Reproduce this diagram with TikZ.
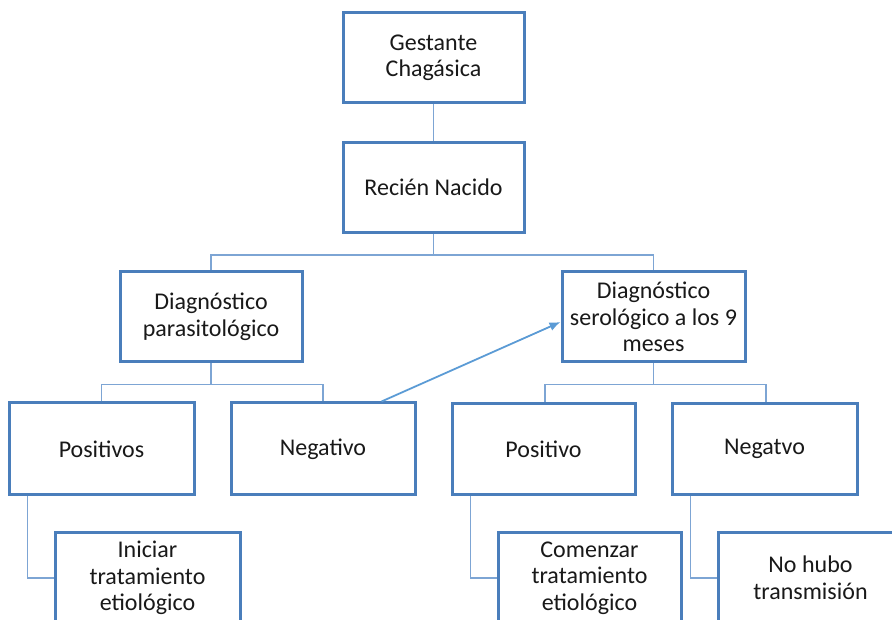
\documentclass[tikz,border=0pt]{standalone}
\usepackage{fontspec}
\setmainfont{Carlito}
\usetikzlibrary{arrows.meta}
\definecolor{boxblue}{RGB}{74,126,187}
\definecolor{linkblue}{RGB}{125,165,212}
\definecolor{arrowblue}{RGB}{91,155,213}
\definecolor{txt}{RGB}{25,25,25}
\begin{document}
\begin{tikzpicture}[x=1pt,y=1pt,
  box/.style={draw=boxblue,line width=3pt,fill=white,minimum width=#1,minimum height=90pt,
    inner sep=0pt,align=center,text=txt,font=\fontsize{24}{26.5}\selectfont},
  box/.default=182pt,
  link/.style={draw=linkblue,line width=1.8pt},
  arr/.style={draw=arrowblue,line width=1.8pt,-{Latex[length=11pt,width=9pt]}}]
\useasboundingbox (0,0) rectangle (892,619);
\node[box=181pt] (gc) at (433.5,561) {Gestante\\Chagásica};
\node[box=181pt] (rn) at (433.5,431.5) {Recién Nacido};
\node[box] (dp) at (211,302) {Diagnóstico\\parasitológico};
\node[box=183pt] (ds) at (653.5,302) {Diagnóstico\\serológico a los 9\\meses};
\node[box=185pt,minimum height=92pt] (pl) at (101.5,170) {Positivos};
\node[box=184pt,minimum height=92pt] (nl) at (323,170) {Negativo};
\node[box=183pt,minimum height=91pt] (pr) at (543.5,170) {Positivo};
\node[box=185pt,minimum height=91pt] (nr) at (764.5,170) {Negatvo};
\node[box=185pt] (ini) at (147.5,41) {Iniciar\\tratamiento\\etiológico};
\node[box=183pt] (com) at (589.5,41) {Comenzar\\tratamiento\\etiológico};
\node[box=185pt] (nh) at (810.5,41) {No hubo\\transmisión};
\draw[link] (gc.south) -- (rn.north);
\draw[link] (rn.south) -- ++(0,-21) -| (dp.north);
\draw[link] (rn.south) -- ++(0,-21) -| (ds.north);
\draw[link] (dp.south) -- ++(0,-21) -| (pl.north);
\draw[link] (dp.south) -- ++(0,-21) -| (nl.north);
\draw[link] (ds.south) -- ++(0,-21) -| ([xshift=1.5pt]pr.north);
\draw[link] (ds.south) -- ++(0,-21) -| ([xshift=1.5pt]nr.north);
\draw[link] ([xshift=20pt]pl.south west) |- (ini.west);
\draw[link] ([xshift=20pt]pr.south west) |- (com.west);
\draw[link] ([xshift=20pt]nr.south west) |- (nh.west);
\draw[arr] ([xshift=-35pt]nl.north east) -- ([yshift=-5pt]ds.west);
\end{tikzpicture}
\end{document}
